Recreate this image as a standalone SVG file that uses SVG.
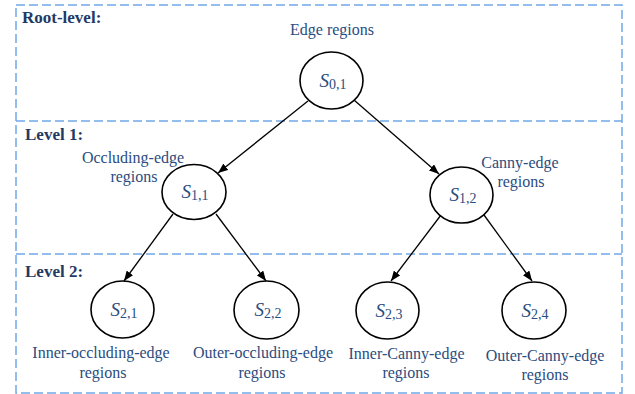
<svg xmlns="http://www.w3.org/2000/svg" width="635" height="394" viewBox="0 0 635 394">
<style>
.frame{fill:none;stroke:#6fa8e6;stroke-width:1.5;stroke-dasharray:9 4}
.lvl{font-family:"Liberation Serif",serif;font-weight:bold;font-size:17px;fill:#1f3a64}
.lbl{font-family:"Liberation Serif",serif;font-size:16px;fill:#2b4c7e;text-anchor:middle}
.node{fill:#fff;stroke:#000;stroke-width:1.6}
.s{font-family:"Liberation Serif",serif;font-style:italic;font-size:19px;fill:#2b4c7e;text-anchor:middle}
.sub{font-style:normal;font-size:14px}
.edge{stroke:#000;stroke-width:1.3;fill:none;marker-end:url(#ah)}
</style>
<defs>
<marker id="ah" viewBox="0 0 10 8" refX="10" refY="4" markerWidth="10" markerHeight="8" markerUnits="userSpaceOnUse" orient="auto">
<path d="M0,0 L10,4 L0,8 Z" fill="#000"/>
</marker>
</defs>
<g id="frames">
<rect class="frame" x="16" y="5" width="606" height="388"/>
<line class="frame" x1="16" y1="121" x2="622" y2="121"/>
<line class="frame" x1="16" y1="254" x2="622" y2="254"/>
</g>
<g id="levels">
<text class="lvl" x="22" y="23">Root-level:</text>
<text class="lvl" x="25" y="140">Level 1:</text>
<text class="lvl" x="25" y="277">Level 2:</text>
</g>
<g id="connectors">
<line class="edge" x1="308" y1="101" x2="218" y2="173"/>
<line class="edge" x1="354" y1="100" x2="439" y2="174"/>
<line class="edge" x1="173" y1="214" x2="124" y2="281"/>
<line class="edge" x1="216" y1="214" x2="266" y2="281"/>
<line class="edge" x1="441" y1="215" x2="391" y2="281"/>
<line class="edge" x1="484" y1="215" x2="532" y2="281"/>
</g>
<g id="n01">
<ellipse class="node" cx="331.5" cy="80.5" rx="31.5" ry="28.5"/>
<text class="s" x="333" y="87">S<tspan class="sub" dy="2">0,1</tspan></text>
<text class="lbl" x="332" y="35">Edge regions</text>
</g>
<g id="n11">
<ellipse class="node" cx="194" cy="192" rx="32" ry="27.5"/>
<text class="s" x="195" y="198">S<tspan class="sub" dy="2">1,1</tspan></text>
<text class="lbl" x="133" y="163">Occluding-edge</text>
<text class="lbl" x="134" y="182">regions</text>
</g>
<g id="n12">
<ellipse class="node" cx="461.5" cy="195" rx="31.5" ry="28"/>
<text class="s" x="463" y="201">S<tspan class="sub" dy="2">1,2</tspan></text>
<text class="lbl" x="520" y="168">Canny-edge</text>
<text class="lbl" x="521" y="187">regions</text>
</g>
<g id="n21">
<ellipse class="node" cx="122.5" cy="309.5" rx="31.5" ry="28.5"/>
<text class="s" x="124" y="316">S<tspan class="sub" dy="2">2,1</tspan></text>
<text class="lbl" x="101" y="358">Inner-occluding-edge</text>
<text class="lbl" x="103" y="378">regions</text>
</g>
<g id="n22">
<ellipse class="node" cx="266.5" cy="310" rx="32.5" ry="29"/>
<text class="s" x="268" y="316">S<tspan class="sub" dy="2">2,2</tspan></text>
<text class="lbl" x="263" y="358">Outer-occluding-edge</text>
<text class="lbl" x="262" y="378">regions</text>
</g>
<g id="n23">
<ellipse class="node" cx="387.5" cy="310.5" rx="31.5" ry="28.5"/>
<text class="s" x="389" y="317">S<tspan class="sub" dy="2">2,3</tspan></text>
<text class="lbl" x="406.5" y="359">Inner-Canny-edge</text>
<text class="lbl" x="406" y="378">regions</text>
</g>
<g id="n24">
<ellipse class="node" cx="534" cy="310.5" rx="32" ry="28.5"/>
<text class="s" x="535" y="317">S<tspan class="sub" dy="2">2,4</tspan></text>
<text class="lbl" x="545" y="361">Outer-Canny-edge</text>
<text class="lbl" x="545" y="380">regions</text>
</g>
</svg>
